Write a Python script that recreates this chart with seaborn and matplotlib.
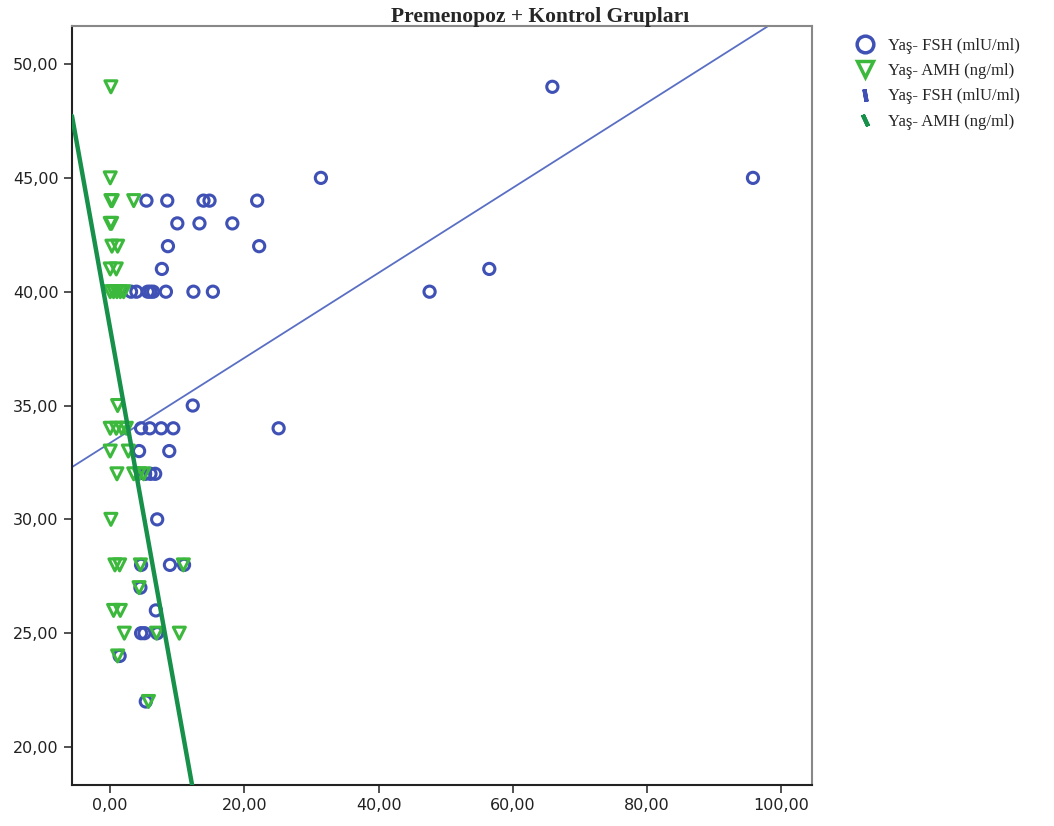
import matplotlib
matplotlib.use('Agg')
import numpy as np
import pandas as pd
import seaborn as sns
import matplotlib.pyplot as plt
from matplotlib.lines import Line2D

# ---- data ----
fsh_x = [65.9, 95.8, 31.4,
         5.4, 8.5, 13.9, 14.8, 21.9,
         10.0, 13.3, 18.2,
         8.6, 22.2,
         7.7, 56.5,
         3.1, 3.9, 5.6, 6.0, 6.4, 8.3, 12.4, 15.3, 47.6,
         12.3,
         4.6, 5.9, 7.6, 9.4, 25.1,
         4.3, 8.8,
         5.2, 6.0, 6.7,
         7.0,
         4.6, 8.9, 11.0,
         4.5, 6.8,
         4.6, 5.1, 7.0,
         1.4, 5.3]
fsh_age = [49, 45, 45,
           44, 44, 44, 44, 44,
           43, 43, 43,
           42, 42,
           41, 41,
           40, 40, 40, 40, 40, 40, 40, 40, 40,
           35,
           34, 34, 34, 34, 34,
           33, 33,
           32, 32, 32,
           30,
           28, 28, 28,
           27, 26,
           25, 25, 25,
           24, 22]

amh_x = [0.1, 0.0,
         0.1, 0.3, 3.5,
         0.0, 0.2,
         0.25, 1.1,
         0.0, 0.9,
         0.0, 0.5, 1.0, 1.5, 2.0,
         1.1,
         0.0, 0.9, 1.7, 2.4,
         0.0, 2.7,
         1.0, 3.5, 4.3, 5.0,
         0.1,
         0.7, 1.4, 4.5, 10.9,
         4.3,
         0.5, 1.5,
         2.1, 6.9, 10.3,
         1.1, 5.7]
amh_age = [49, 45,
           44, 44, 44,
           43, 43,
           42, 42,
           41, 41,
           40, 40, 40, 40, 40,
           35,
           34, 34, 34, 34,
           33, 33,
           32, 32, 32, 32,
           30,
           28, 28, 28, 28,
           27,
           26, 26,
           25, 25, 25,
           24, 22]

# fit lines (intercept, slope) as shown in the reference
fsh_fit = (33.36, 0.1867)
amh_fit = (38.36, -1.642)

labels = ['Yaş- FSH (mlU/ml)', 'Yaş- AMH (ng/ml)']
x_ticks = [0, 20, 40, 60, 80, 100]
y_ticks = [20, 25, 30, 35, 40, 45, 50]

blue = '#3F51B5'
green = '#3CB93C'
blue_line = '#5A6FC4'
green_line = '#17904A'

# =============================================================================
# PLOT
# =============================================================================
sns.set_style('white')
plt.rcParams['font.family'] = ['DejaVu Sans']

fig = plt.figure(figsize=(10.54, 8.26), dpi=100)
ax = fig.add_axes([0.0683, 0.0496, 0.7021, 0.9189])

df_fsh = pd.DataFrame({'x': fsh_x, 'age': fsh_age})
df_amh = pd.DataFrame({'x': amh_x, 'age': amh_age})

sns.scatterplot(data=df_fsh, x='x', y='age', marker='o', s=65,
                facecolors='none', edgecolor=blue, linewidth=2.2, ax=ax, zorder=3)
sns.scatterplot(data=df_amh, x='x', y='age', marker='v', s=75,
                facecolors='none', edgecolor=green, linewidth=2.2, ax=ax, zorder=4)

ax.axline((0, fsh_fit[0]), slope=fsh_fit[1], color=blue_line, lw=1.3, zorder=2)
ax.axline((0, amh_fit[0]), slope=amh_fit[1], color=green_line, lw=3.2, zorder=5)

ax.set_xlim(-5.7, 104.6)
ax.set_ylim(18.33, 51.67)
ax.set_xticks(x_ticks)
ax.set_yticks(y_ticks)
ax.set_xticklabels([f'{v:.2f}'.replace('.', ',') for v in x_ticks], fontsize=11.5, color='#222222')
ax.set_yticklabels([f'{v:.2f}'.replace('.', ',') for v in y_ticks], fontsize=11.5, color='#222222')
ax.set_xlabel('')
ax.set_ylabel('')
ax.tick_params(axis='both', direction='out', length=6, width=1.2, color='#333333',
               bottom=True, left=True, top=False, right=False)

for side in ['left', 'bottom']:
    ax.spines[side].set_color('#222222')
    ax.spines[side].set_linewidth(1.5)
for side in ['top', 'right']:
    ax.spines[side].set_color('#888888')
    ax.spines[side].set_linewidth(1.5)

# title sits right of the axes centre in the reference
ax.set_title('Premenopoz + Kontrol Grupları', fontsize=15.5, fontweight='bold',
             family='Liberation Serif', pad=3, x=0.632)

handles = [
    Line2D([], [], ls='none', marker='o', ms=12, mfc='none', mec=blue, mew=2.5),
    Line2D([], [], ls='none', marker='v', ms=12, mfc='none', mec=green, mew=2.5),
    Line2D([], [], ls='none', marker=(2, 2, 10), ms=9, mec=blue, mew=3),
    Line2D([], [], ls='none', marker=(2, 2, 25), ms=9, mec=green_line, mew=3),
]
leg = fig.legend(handles, labels + labels, loc='upper left', bbox_to_anchor=(0.795, 0.972),
                 frameon=False, prop={'family': 'Liberation Serif', 'size': 12},
                 handletextpad=0.6, labelspacing=0.55, handlelength=1.5)

plt.savefig('out.png', dpi=100)
